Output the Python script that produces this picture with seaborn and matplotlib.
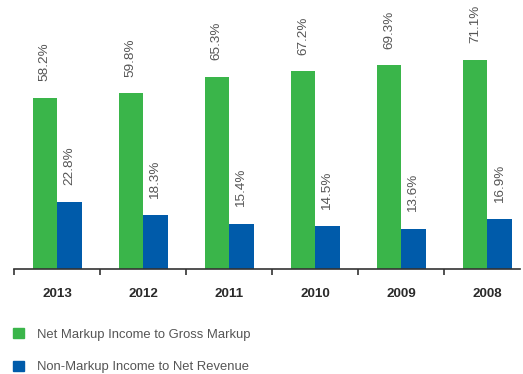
import matplotlib
matplotlib.use("Agg")
import matplotlib.pyplot as plt
import matplotlib.patches as mpatches
import numpy as np
import pandas as pd
import seaborn as sns

years = ["2013", "2012", "2011", "2010", "2009", "2008"]
net_markup = [58.2, 59.8, 65.3, 67.2, 69.3, 71.1]
non_markup = [22.8, 18.3, 15.4, 14.5, 13.6, 16.9]
series = ["Net Markup Income to Gross Markup", "Non-Markup Income to Net Revenue"]
colors = ["#3AB54A", "#005BAA"]

df = pd.DataFrame({
    "year": years * 2,
    "value": net_markup + non_markup,
    "series": [series[0]] * len(years) + [series[1]] * len(years),
})

sns.set_style("white")
plt.rcParams["font.family"] = ["Liberation Sans", "DejaVu Sans"]

fig = plt.figure(figsize=(5.23, 3.74), dpi=100)
ax = fig.add_axes([14 / 523, 105 / 374, 506 / 523, 269 / 374])

sns.barplot(data=df, x="year", y="value", hue="series", order=years,
            hue_order=series, palette=colors, width=0.57, ax=ax,
            saturation=1, legend=False, linewidth=0)

for cont in ax.containers:
    ax.bar_label(cont, fmt="%.1f%%", rotation=90, padding=12,
                 fontsize=9.7, color="#555555")

ax.set_ylim(0, 91.5)
ax.set_xlim(-0.5, 5.38)
ax.set_xlabel("")
ax.set_ylabel("")
ax.set_yticks([])
for s in ["top", "right", "left"]:
    ax.spines[s].set_visible(False)
ax.spines["bottom"].set_color("#333333")
ax.spines["bottom"].set_linewidth(1.2)

ax.set_xticks(range(len(years)))
ax.set_xticklabels(years, fontsize=9.6, fontweight="bold", color="#2a2a2a")
ax.tick_params(axis="x", which="major", length=0, pad=14, bottom=True)
ax.set_xticks(np.arange(-0.5, len(years) - 1, 1.0), minor=True)
ax.tick_params(axis="x", which="minor", length=4.5, width=1.2, bottom=True,
               color="#333333", direction="out")

handles = [mpatches.Patch(color=c, label=s) for c, s in zip(colors, series)]
fig.legend(handles=handles, loc="upper left", bbox_to_anchor=(0.0025, 0.155),
           frameon=False, fontsize=9.4, handlelength=0.85, handleheight=0.85,
           labelspacing=1.55, handletextpad=1.0, labelcolor="#555555")

fig.savefig("out.png", dpi=100)
